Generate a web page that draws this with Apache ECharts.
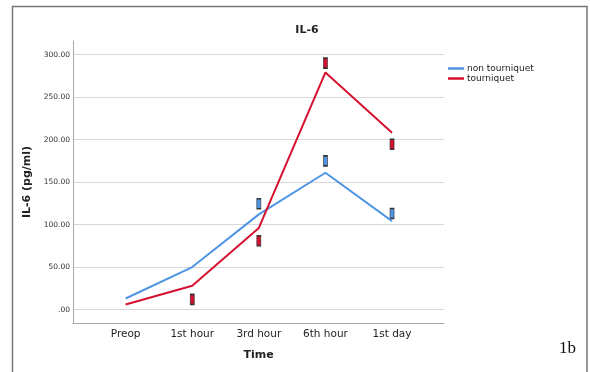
<!DOCTYPE html>
<html>
<head>
<meta charset="utf-8">
<script src="https://cdn.jsdelivr.net/npm/echarts@6/dist/echarts.min.js"></script>
<style>
html, body { margin: 0; padding: 0; background: #fff; }
#chart { width: 590px; height: 372px; }
</style>
</head>
<body>
<div id="chart"></div>
<script>
const categories = ['Preop', '1st hour', '3rd hour', '6th hour', '1st day']
const nonTourniquet = [13, 50, 112, 161, 104]
const tourniquet = [6, 28, 96, 279, 208]
// small outlier boxes, [category index, value]
const nonTourniquetBoxes = [[2, 124.5], [3, 175], [4, 113]]
const tourniquetBoxes = [[1, 12], [2, 81], [3, 290], [4, 194.5]]
const yTicks = [0, 50, 100, 150, 200, 250, 300]

const blue = '#4f95e4'
const red = '#d6102f'
const font = 'DejaVu Sans'

const myChart = echarts.init(document.getElementById('chart'))

function pairs(arr) {
  return arr.map((v, i) => [i, v])
}

const options = {
  animation: false,
  textStyle: { fontFamily: font },
  title: {
    text: 'IL-6',
    left: 302,
    top: 20,
    textAlign: 'center',
    textStyle: { fontSize: 11, fontWeight: 'bold', color: '#222', fontFamily: font }
  },
  legend: {
    orient: 'vertical',
    left: 443,
    top: 59,
    itemWidth: 16,
    itemHeight: 2.5,
    itemGap: 1,
    icon: 'rect',
    data: ['non tourniquet', 'tourniquet'],
    textStyle: { fontSize: 9, color: '#222', padding: [0, 0, 0, -2] }
  },
  grid: {
    left: 73,
    right: 146,
    top: 41,
    bottom: 49
  },
  xAxis: {
    type: 'value',
    min: -0.79,
    max: 4.78,
    name: 'Time',
    nameLocation: 'middle',
    nameGap: 27,
    nameTextStyle: { fontSize: 11, fontWeight: 'bold', color: '#222', fontFamily: font },
    axisLine: { onZero: false, lineStyle: { color: '#a8a8a8', width: 1 } },
    axisTick: { show: false, customValues: [0, 1, 2, 3, 4] },
    splitLine: { show: false },
    axisLabel: {
      customValues: [0, 1, 2, 3, 4],
      formatter: v => categories[v],
      fontSize: 10.5,
      color: '#222',
      margin: 6
    }
  },
  yAxis: {
    type: 'value',
    min: -15.8,
    max: 316,
    name: 'IL-6 (pg/ml)',
    nameLocation: 'middle',
    nameGap: 33,
    nameRotate: 90,
    nameTextStyle: { fontSize: 11, fontWeight: 'bold', color: '#222', fontFamily: font },
    axisLine: { show: true, onZero: false, lineStyle: { color: '#a8a8a8', width: 1 } },
    axisTick: { show: false, customValues: yTicks },
    splitLine: { show: true, lineStyle: { color: '#d8d8d8', width: 1 } },
    axisLabel: {
      customValues: yTicks,
      formatter: v => v === 0 ? '.00' : v.toFixed(2),
      fontSize: 7.5,
      color: '#333',
      margin: 3
    }
  },
  graphic: [
    {
      type: 'polyline',
      shape: { points: [[12.5, 380], [12.5, 6.5], [587, 6.5], [587, 380]] },
      style: { stroke: '#777', lineWidth: 1.5, fill: null }
    },
    {
      type: 'text',
      left: 559,
      top: 340,
      style: { text: '1b', font: '17px "Liberation Serif"', fill: '#111' }
    }
  ],
  series: [
    {
      name: 'non tourniquet',
      type: 'line',
      data: pairs(nonTourniquet),
      symbol: 'none',
      color: blue,
      lineStyle: { width: 2, color: blue }
    },
    {
      name: 'tourniquet',
      type: 'line',
      data: pairs(tourniquet),
      symbol: 'none',
      color: red,
      lineStyle: { width: 2, color: red }
    },
    {
      name: 'nt-box',
      type: 'scatter',
      data: nonTourniquetBoxes,
      symbol: 'rect',
      symbolSize: [4, 10],
      itemStyle: { color: blue, borderColor: '#333', borderWidth: 1, opacity: 1 }
    },
    {
      name: 't-box',
      type: 'scatter',
      data: tourniquetBoxes,
      symbol: 'rect',
      symbolSize: [4, 10],
      itemStyle: { color: red, borderColor: '#333', borderWidth: 1, opacity: 1 }
    }
  ]
}

myChart.setOption(options)
window.addEventListener('resize', () => {
  myChart.resize()
})
</script>
</body>
</html>
